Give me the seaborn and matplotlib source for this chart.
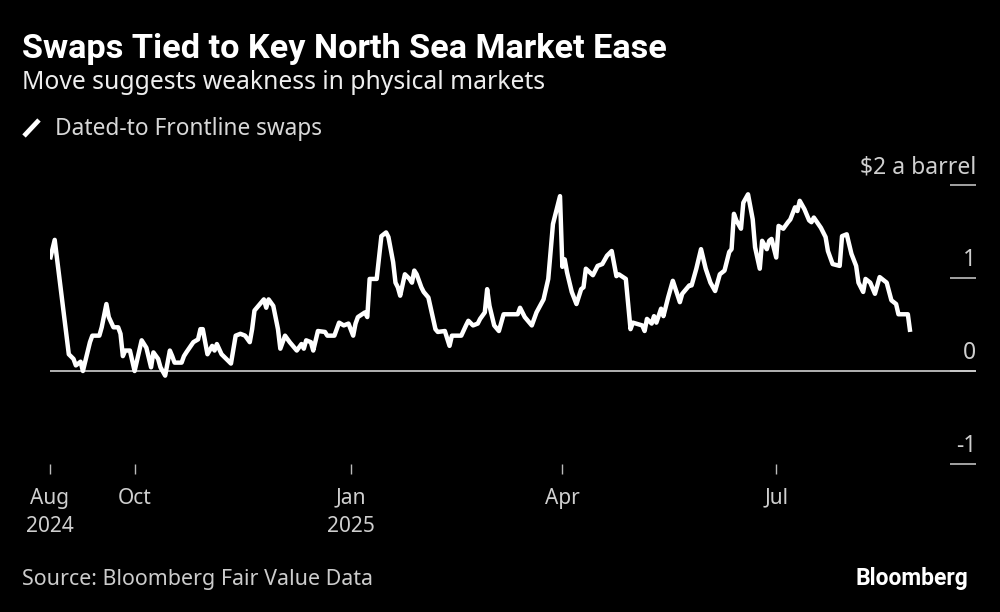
import matplotlib
matplotlib.use("Agg")
import matplotlib.pyplot as plt
import pandas as pd
import seaborn as sns
from matplotlib.lines import Line2D
from matplotlib.transforms import ScaledTranslation

# ---- data ----
origin = "2024-10-01"
day_offsets = [
    -36, -34, -28, -26, -25, -23, -22, -19, -18, -15, -14, -12, -11, -9, -7, -6, -5, -4, -2, 0,
    3, 5, 7, 8, 10, 11, 13, 15, 16, 17, 20, 21, 22,
    25, 27, 28, 29, 31, 33, 34, 35, 37, 41, 43, 45, 47, 49, 50, 51, 54, 55, 56, 57, 59, 61, 62,
    64, 66, 69, 71, 72, 73, 75, 76, 78, 81, 82, 85,
    87, 89, 91, 93, 94, 95, 98, 99, 100, 103, 105, 107, 108, 110, 111, 112, 113, 115, 117, 118,
    119, 120, 122, 123, 125, 128, 129, 132, 134, 135, 137, 139, 141, 142, 144, 146, 147, 149,
    150, 151, 153, 155, 157, 160, 163, 164, 166, 169, 171, 174, 176, 178, 181, 182, 183, 184,
    186, 188, 190, 191, 192, 195, 197, 199, 201, 203, 205, 206, 209, 211, 212, 216, 217, 218,
    220, 221, 222, 224, 225, 227, 229, 232, 233, 236, 237, 239, 241, 243, 245, 247, 249, 251,
    253, 254, 255, 256, 258, 259, 261, 263, 264, 266, 267, 269, 270, 271, 273, 274, 276, 278,
    279, 281, 282, 283, 285, 287, 288, 289, 292, 294, 295, 297, 300, 301, 303, 305, 307, 308,
    310, 311, 313, 315, 317, 320, 322, 324, 325, 329, 330,
]
swap_values = [
    1.20, 1.41, 0.18, 0.13, 0.06, 0.10, 0.00, 0.31, 0.38, 0.38, 0.47, 0.72, 0.58, 0.47, 0.47, 0.40, 0.16, 0.22, 0.22, 0.00,
    0.33, 0.25, 0.04, 0.20, 0.13, 0.04, -0.05, 0.22, 0.16, 0.09, 0.09, 0.16, 0.20,
    0.31, 0.34, 0.45, 0.45, 0.18, 0.27, 0.22, 0.29, 0.18, 0.08, 0.38, 0.40, 0.38, 0.31, 0.45, 0.65, 0.74, 0.77, 0.68, 0.77, 0.70, 0.45, 0.24,
    0.38, 0.31, 0.22, 0.29, 0.24, 0.33, 0.31, 0.22, 0.43, 0.42, 0.38, 0.38,
    0.52, 0.49, 0.51, 0.38, 0.51, 0.58, 0.63, 0.58, 0.99, 0.99, 1.45, 1.49, 1.44, 1.17, 0.95, 0.90, 0.81, 1.04, 0.99, 0.95,
    1.08, 1.04, 0.90, 0.85, 0.79, 0.45, 0.42, 0.43, 0.27, 0.38, 0.38, 0.38, 0.49, 0.54, 0.49, 0.51, 0.56, 0.63,
    0.88, 0.70, 0.49, 0.43, 0.61, 0.61, 0.61, 0.68, 0.58, 0.49, 0.63, 0.77, 0.99, 1.58, 1.88, 1.12, 1.20, 1.06,
    0.85, 0.72, 0.88, 0.90, 1.10, 1.03, 1.13, 1.15, 1.24, 1.29, 1.02, 1.04, 0.99, 0.45, 0.52, 0.49, 0.43, 0.56,
    0.51, 0.59, 0.52, 0.67, 0.59, 0.79, 0.97, 0.74, 0.83, 0.92, 0.92, 1.10, 1.31, 1.10, 0.95, 0.86, 1.04, 1.08,
    1.28, 1.31, 1.69, 1.62, 1.53, 1.81, 1.90, 1.63, 1.33, 1.10, 1.40, 1.31, 1.40, 1.42, 1.22, 1.56, 1.53, 1.60,
    1.63, 1.76, 1.72, 1.83, 1.74, 1.62, 1.60, 1.65, 1.54, 1.44, 1.29, 1.15, 1.13, 1.45, 1.47, 1.26, 1.13, 0.95,
    0.85, 0.99, 0.95, 0.83, 1.01, 0.95, 0.76, 0.72, 0.61, 0.61, 0.42,
]
xtick_dates = ["2024-10-01", "2025-01-01", "2025-04-01", "2025-07-01"]
xtick_labels = ["Aug\n2024", "Oct", "Jan\n2025", "Apr", "Jul"]
ytick_values = [-1, 0, 1, 2]
ytick_labels = ["-1", "0", "1", "$2 a barrel"]
title = "Swaps Tied to Key North Sea Market Ease"
subtitle = "Move suggests weakness in physical markets"
legend_label = "Dated-to Frontline swaps"
source = "Source: Bloomberg Fair Value Data"

assert len(day_offsets) == len(swap_values)

# ---- style ----
sns.set_theme(style="dark", rc={
    "figure.facecolor": "black", "axes.facecolor": "black",
    "axes.edgecolor": "black", "text.color": "white",
    "xtick.color": "#cfcfcf", "ytick.color": "#cfcfcf",
    "xtick.bottom": True,
})
plt.rcParams["font.family"] = ["Noto Sans", "DejaVu Sans"]

W, H = 1000, 612
fig = plt.figure(figsize=(W / 100, H / 100), dpi=100, facecolor="black")
ax = fig.add_axes([50 / W, 1 - 464 / H, 926 / W, (464 - 185) / H])
ax.set_facecolor("black")

t0 = pd.Timestamp(origin)
df = pd.DataFrame({
    "date": t0 + pd.to_timedelta(day_offsets, unit="D"),
    "value": swap_values,
})
ax.axhline(0, color="#d0d0d0", linewidth=1.2, zorder=1)
sns.lineplot(data=df, x="date", y="value", ax=ax, color="white", linewidth=3.2,
             solid_joinstyle="round", solid_capstyle="butt", zorder=3)

ax.set_xlim(t0 + pd.Timedelta(days=-36), t0 + pd.Timedelta(days=358))
ax.set_ylim(-1, 2)
ax.set_xlabel("")
ax.set_ylabel("")
ax.grid(False)
for s in ax.spines.values():
    s.set_visible(False)

# x ticks
xt = [df["date"].iloc[0]] + [pd.Timestamp(d) for d in xtick_dates]
ax.set_xticks(xt)
ax.set_xticklabels(xtick_labels, fontsize=15, color="#cfcfcf", linespacing=1.45)
ax.tick_params(axis="x", direction="out", length=7, width=1.0, color="#bbbbbb", pad=10,
               bottom=True, labelbottom=True, top=False)

# y ticks on the right, labels above the tick marks
ax.yaxis.tick_right()
ax.set_yticks(ytick_values)
ax.set_yticklabels(ytick_labels, fontsize=16.5, color="#cfcfcf")
ax.tick_params(axis="y", direction="in", length=18.5, width=1.1, color="#cfcfcf", pad=0,
               left=False, labelleft=False, right=True, labelright=True)
off = ScaledTranslation(0, 4 / 72, fig.dpi_scale_trans)
for tick in ax.yaxis.get_major_ticks():
    tick.label2.set_horizontalalignment("right")
    tick.label2.set_verticalalignment("bottom")
    tick.label2.set_transform(tick.label2.get_transform() + off)

# ---- header / footer text ----
def fig_text(x, y, s, **kw):
    return fig.text(x / W, 1 - y / H, s, va="baseline", ha=kw.pop("ha", "left"), **kw)

t_title = fig_text(22, 58, title, fontsize=20, fontweight="bold", color="white",
                   family=["Roboto", "DejaVu Sans"])
t_sub = fig_text(22, 89, subtitle, fontsize=16, color="#eeeeee")
t_leg = fig_text(55, 135, legend_label, fontsize=14, color="#d8d8d8")
t_src = fig_text(22, 585, source, fontsize=13, color="#cccccc")
t_bb = fig_text(968, 585, "Bloomberg", fontsize=14, fontweight="bold", color="white",
                ha="right", family=["Roboto", "DejaVu Sans"])
fig.add_artist(Line2D([24 / W, 39 / W], [1 - 136 / H, 1 - 120 / H], transform=fig.transFigure,
                      color="white", linewidth=3.4, solid_capstyle="butt"))

renderer = fig.canvas.get_renderer()
def fit(t, width_px):
    for _ in range(2):
        w = t.get_window_extent(renderer).width
        t.set_fontsize(t.get_fontsize() * width_px / w)

fit(t_title, 644)
fit(t_sub, 523)
fit(t_leg, 267)
fit(t_src, 350)
fit(t_bb, 113)

fig.savefig("out.png", dpi=100, facecolor="black")
